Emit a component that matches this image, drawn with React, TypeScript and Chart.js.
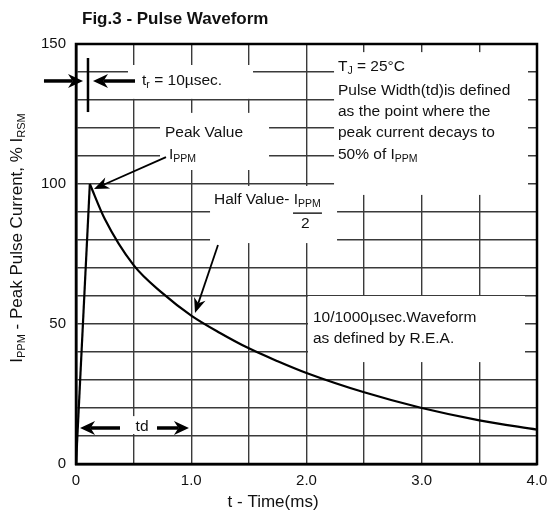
import React, { useEffect, useRef } from "react";
import { Chart, registerables } from "chart.js";

Chart.register(...registerables);

// ---- data ----
const riseTimes = [0, 0.12];
const riseValues = [0, 100];
const decayTimes = [0.12, 0.25, 0.5, 0.75, 1.0, 1.25, 1.5, 1.75, 2.0, 2.5, 3.0, 3.5, 4.0];
const decayValues = [100, 87.5, 71, 61, 53, 46.8, 41.3, 36.7, 32.5, 25.6, 20, 15.6, 12.3];

const xTickValues = [0, 1, 2, 3, 4];
const xTickLabels = ["0", "1.0", "2.0", "3.0", "4.0"];
const yTickValues = [0, 50, 100, 150];
const yTickLabels = ["0", "50", "100", "150"];

const titleText = "Fig.3 - Pulse Waveform";
const xTitle = "t - Time(ms)";

const FONT = "'Liberation Sans', Arial, Helvetica, sans-serif";
const TS = 15.5; // annotation text size

type Part = [string, boolean];

function richWidth(ctx: CanvasRenderingContext2D, parts: Part[], size: number, sub: number) {
  let w = 0;
  for (const [t, s] of parts) {
    ctx.font = `${s ? sub : size}px ${FONT}`;
    w += ctx.measureText(t).width;
  }
  return w;
}

function drawRich(ctx: CanvasRenderingContext2D, x: number, y: number, parts: Part[], size = TS, sub = 10.5) {
  ctx.textBaseline = "middle";
  ctx.textAlign = "left";
  let cx = x;
  for (const [t, s] of parts) {
    ctx.font = `${s ? sub : size}px ${FONT}`;
    ctx.fillText(t, cx, s ? y + size * 0.28 : y);
    cx += ctx.measureText(t).width;
  }
}

function arrow(ctx: CanvasRenderingContext2D, x1: number, y1: number, x2: number, y2: number, shaft: number, headLen: number, headW: number) {
  const ang = Math.atan2(y2 - y1, x2 - x1);
  const cos = Math.cos(ang), sin = Math.sin(ang);
  const bx = x2 - cos * headLen * 0.7, by = y2 - sin * headLen * 0.7;
  ctx.strokeStyle = "#000";
  ctx.lineWidth = shaft;
  ctx.lineCap = "butt";
  ctx.beginPath();
  ctx.moveTo(x1, y1);
  ctx.lineTo(bx, by);
  ctx.stroke();
  const backX = x2 - cos * headLen, backY = y2 - sin * headLen;
  ctx.fillStyle = "#000";
  ctx.beginPath();
  ctx.moveTo(x2, y2);
  ctx.lineTo(backX - sin * headW / 2, backY + cos * headW / 2);
  ctx.lineTo(bx, by);
  ctx.lineTo(backX + sin * headW / 2, backY - cos * headW / 2);
  ctx.closePath();
  ctx.fill();
}

// boxes [t0, t1, v0, v1] where annotation text masks the grid
const maskBoxes = [
  [0.451, 1.536, 142.5, 130.4],
  [0.729, 1.675, 125.4, 105],
  [2.239, 3.922, 147.1, 96.1],
  [1.163, 2.265, 99.3, 78.9],
  [2.013, 3.896, 60, 36.4],
  [0.4425, 0.703, 17.1, 10.7],
];

const annotationPlugin = {
  id: "annotations",
  beforeDatasetsDraw(chart: any) {
    const { ctx, scales } = chart;
    const X = (t: number) => scales.x.getPixelForValue(t);
    const Y = (v: number) => scales.y.getPixelForValue(v);
    ctx.save();
    ctx.fillStyle = "#fff";
    for (const [t0, t1, v0, v1] of maskBoxes) {
      ctx.fillRect(X(t0), Y(v0), X(t1) - X(t0), Y(v1) - Y(v0));
    }
    ctx.restore();
  },
  afterDraw(chart: any) {
    const { ctx, scales, chartArea } = chart;
    const X = (t: number) => scales.x.getPixelForValue(t);
    const Y = (v: number) => scales.y.getPixelForValue(v);
    ctx.save();
    // frame
    ctx.strokeStyle = "#000";
    ctx.lineWidth = 2.5;
    ctx.strokeRect(chartArea.left, chartArea.top, chartArea.right - chartArea.left, chartArea.bottom - chartArea.top);

    ctx.fillStyle = "#111";
    // title
    ctx.font = `bold 17px ${FONT}`;
    ctx.textBaseline = "middle";
    ctx.textAlign = "left";
    ctx.fillText(titleText, 82, 19);

    // x axis title
    ctx.font = `17px ${FONT}`;
    ctx.textAlign = "center";
    ctx.fillText(xTitle, X(1.71), 502);

    // y axis title (rotated)
    const yParts: Part[] = [["I", false], ["PPM", true], [" - Peak Pulse Current, % I", false], ["RSM", true]];
    ctx.save();
    ctx.translate(17, 238);
    ctx.rotate(-Math.PI / 2);
    const yw = richWidth(ctx, yParts, 17, 11);
    ctx.fillStyle = "#111";
    drawRich(ctx, -yw / 2, 0, yParts, 17, 11);
    ctx.restore();

    ctx.fillStyle = "#111";
    // tr annotation
    arrow(ctx, X(-0.278), Y(136.8), X(0.061), Y(136.8), 3.5, 15, 14);
    arrow(ctx, X(0.512), Y(136.8), X(0.1475), Y(136.8), 3.5, 15, 14);
    ctx.strokeStyle = "#000";
    ctx.lineWidth = 2.5;
    ctx.beginPath();
    ctx.moveTo(X(0.104), Y(145));
    ctx.lineTo(X(0.104), Y(125.7));
    ctx.stroke();
    ctx.fillStyle = "#111";
    drawRich(ctx, X(0.573), Y(136.8), [["t", false], ["r", true], [" = 10µsec.", false]]);

    // Peak value
    drawRich(ctx, X(0.772), Y(118.2), [["Peak Value", false]]);
    drawRich(ctx, X(0.807), Y(110.6), [["I", false], ["PPM", true]]);
    arrow(ctx, X(0.781), Y(109.6), X(0.156), Y(98.2), 1.8, 15, 12);

    // T_J block
    ctx.fillStyle = "#111";
    drawRich(ctx, X(2.273), Y(141.8), [["T", false], ["J", true], [" = 25°C", false]]);
    drawRich(ctx, X(2.273), Y(133.2), [["Pulse Width(td)is defined", false]]);
    drawRich(ctx, X(2.273), Y(125.7), [["as the point where the", false]]);
    drawRich(ctx, X(2.273), Y(118.2), [["peak current decays to", false]]);
    drawRich(ctx, X(2.273), Y(110.4), [["50% of I", false], ["PPM", true]]);

    // Half value
    drawRich(ctx, X(1.197), Y(94.3), [["Half Value- I", false], ["PPM", true]]);
    ctx.strokeStyle = "#000";
    ctx.lineWidth = 1.3;
    ctx.beginPath();
    ctx.moveTo(X(1.883), Y(89.6));
    ctx.lineTo(X(2.134), Y(89.6));
    ctx.stroke();
    ctx.font = `${TS}px ${FONT}`;
    ctx.textAlign = "center";
    ctx.fillText("2", X(1.99), Y(85.7));
    arrow(ctx, X(1.232), Y(78.2), X(1.0325), Y(53.9), 1.8, 15, 12);

    // waveform note
    ctx.fillStyle = "#111";
    drawRich(ctx, X(2.056), Y(52.1), [["10/1000µsec.Waveform", false]]);
    drawRich(ctx, X(2.056), Y(44.6), [["as defined by R.E.A.", false]]);

    // td
    arrow(ctx, X(0.382), Y(12.86), X(0.035), Y(12.86), 3.5, 15, 14);
    arrow(ctx, X(0.703), Y(12.86), X(0.98), Y(12.86), 3.5, 15, 14);
    ctx.fillStyle = "#111";
    ctx.font = `${TS}px ${FONT}`;
    ctx.textAlign = "center";
    ctx.textBaseline = "middle";
    ctx.fillText("td", X(0.573), Y(13.2));

    ctx.restore();
  },
};

export default function App() {
  const ref = useRef<HTMLCanvasElement | null>(null);
  useEffect(() => {
    if (!ref.current) return;
    const rise = riseTimes.map((t, i) => ({ x: t, y: riseValues[i] }));
    const decay = decayTimes.map((t, i) => ({ x: t, y: decayValues[i] }));
    const gridColor = "#3a3a3a";
    const chart = new Chart(ref.current, {
      type: "line",
      data: {
        datasets: [
          { data: rise, borderColor: "#000", borderWidth: 2.2, pointRadius: 0, tension: 0 },
          { data: decay, borderColor: "#000", borderWidth: 2.2, pointRadius: 0, cubicInterpolationMode: "monotone" },
        ],
      },
      options: {
        animation: false,
        responsive: false,
        devicePixelRatio: 1,
        layout: { padding: { top: 44, right: 10, left: 0, bottom: 0 } },
        plugins: { legend: { display: false }, title: { display: false }, tooltip: { enabled: false } },
        scales: {
          x: {
            type: "linear",
            min: 0,
            max: 4,
            ticks: {
              stepSize: 0.5,
              autoSkip: false,
              maxRotation: 0,
              padding: 8,
              color: "#111",
              font: { family: FONT, size: 15 },
              callback: (v: any) => {
                const i = xTickValues.indexOf(Number(v));
                return i >= 0 ? xTickLabels[i] : "";
              },
            },
            grid: { color: gridColor, lineWidth: 1.4, drawTicks: false },
            border: { display: true, color: "#000", width: 2.5 },
            afterFit: (s: any) => {
              s.height = 50;
              s.paddingLeft = 0;
              s.paddingRight = 0;
            },
          },
          y: {
            type: "linear",
            min: 0,
            max: 150,
            ticks: {
              stepSize: 10,
              autoSkip: false,
              padding: 10,
              color: "#111",
              font: { family: FONT, size: 15 },
              callback: (v: any) => {
                const i = yTickValues.indexOf(Number(v));
                return i >= 0 ? yTickLabels[i] : "";
              },
            },
            grid: { color: gridColor, lineWidth: 1.4, drawTicks: false },
            border: { display: true, color: "#000", width: 2.5 },
            afterFit: (s: any) => {
              s.width = 76;
              s.paddingTop = 0;
              s.paddingBottom = 0;
            },
          },
        },
      } as any,
      plugins: [annotationPlugin],
    });
    return () => chart.destroy();
  }, []);
  return (
    <div style={{ position: "absolute", left: 0, top: 0, width: 547, height: 514, background: "#fff" }}>
      <canvas ref={ref} width={547} height={514} style={{ width: 547, height: 514, display: "block" }} />
    </div>
  );
}
